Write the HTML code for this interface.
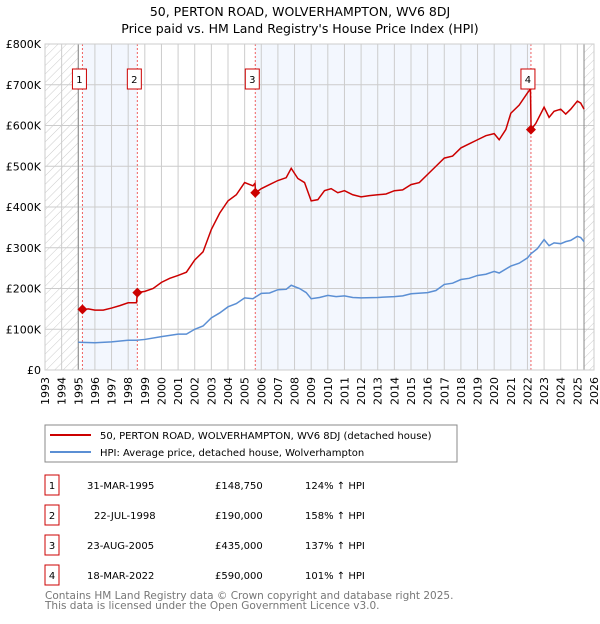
<!DOCTYPE html>
<html><head><meta charset="utf-8"><style>
body{margin:0;background:#fff;font-family:"DejaVu Sans","Liberation Sans",sans-serif;}
svg text{font-family:"DejaVu Sans","Liberation Sans",sans-serif;}
</style></head><body>
<svg id="c" width="600" height="620" xmlns="http://www.w3.org/2000/svg">
<defs><pattern id="hatch" width="6" height="6" patternUnits="userSpaceOnUse" patternTransform="rotate(45)"><line x1="0" y1="0" x2="0" y2="6" stroke="#ccc" stroke-width="1"/></pattern></defs>
<text x="300" y="16" text-anchor="middle" font-size="12.5">50, PERTON ROAD, WOLVERHAMPTON, WV6 8DJ</text>
<text x="300" y="33" text-anchor="middle" font-size="12.5">Price paid vs. HM Land Registry's House Price Index (HPI)</text>
<g id="plot"></g>
<rect x="45" y="425" width="412" height="37" fill="#fff" stroke="#888"/>
<line x1="50" y1="435" x2="91" y2="435" stroke="#cc0000" stroke-width="2"/>
<text x="100" y="439" font-size="10">50, PERTON ROAD, WOLVERHAMPTON, WV6 8DJ (detached house)</text>
<line x1="50" y1="452" x2="91" y2="452" stroke="#5b8fd4" stroke-width="2"/>
<text x="100" y="456" font-size="10">HPI: Average price, detached house, Wolverhampton</text>
<g id="tbl" font-size="10"></g>
<text x="45" y="599" font-size="10.5" fill="#777">Contains HM Land Registry data © Crown copyright and database right 2025.</text>
<text x="45" y="609" font-size="10.5" fill="#777">This data is licensed under the Open Government Licence v3.0.</text>
</svg>
<script>
const NS="http://www.w3.org/2000/svg";
const yearTicks=[1993,1994,1995,1996,1997,1998,1999,2000,2001,2002,2003,2004,2005,2006,2007,2008,2009,2010,2011,2012,2013,2014,2015,2016,2017,2018,2019,2020,2021,2022,2023,2024,2025,2026];
const yTicks=[0,100,200,300,400,500,600,700,800];
const yLabels=["£0","£100K","£200K","£300K","£400K","£500K","£600K","£700K","£800K"];
const saleDates=[1995.25,1998.55,2005.64,2022.21];
const salePrices=[148.75,190,435,590];
const saleDateText=["31-MAR-1995","22-JUL-1998","23-AUG-2005","18-MAR-2022"];
const salePriceText=["£148,750","£190,000","£435,000","£590,000"];
const saleHpiText=["124% ↑ HPI","158% ↑ HPI","137% ↑ HPI","101% ↑ HPI"];
const redT=[1995.25,1995.6,1996,1996.5,1997,1997.5,1998,1998.5,1998.55,1999,1999.5,2000,2000.5,2001,2001.5,2002,2002.5,2003,2003.5,2004,2004.5,2005,2005.5,2005.62,2005.66,2006,2006.5,2007,2007.5,2007.8,2008.2,2008.6,2009,2009.4,2009.8,2010.2,2010.6,2011,2011.5,2012,2012.5,2013,2013.5,2014,2014.5,2015,2015.5,2016,2016.5,2017,2017.5,2018,2018.5,2019,2019.5,2020,2020.3,2020.7,2021,2021.5,2022,2022.18,2022.22,2022.5,2023,2023.3,2023.6,2024,2024.3,2024.6,2025,2025.2,2025.4];
const redV=[148,150,147,147,152,158,165,165,190,193,200,215,225,232,240,270,290,345,385,415,430,460,452,458,435,445,455,465,472,495,470,460,415,418,440,445,435,440,430,425,428,430,432,440,442,455,460,480,500,520,525,545,555,565,575,580,565,590,630,650,680,690,590,605,645,620,635,640,628,640,660,655,640];
const hpiT=[1995,1996,1997,1998,1998.5,1999,2000,2001,2001.5,2002,2002.5,2003,2003.5,2004,2004.5,2005,2005.5,2006,2006.5,2007,2007.5,2007.8,2008.3,2008.7,2009,2009.5,2010,2010.5,2011,2011.5,2012,2013,2014,2014.5,2015,2016,2016.5,2017,2017.5,2018,2018.5,2019,2019.5,2020,2020.3,2021,2021.5,2022,2022.2,2022.6,2023,2023.3,2023.6,2024,2024.3,2024.6,2025,2025.2,2025.4];
const hpiV=[68,67,69,73,73,75,82,88,88,100,108,128,140,155,163,177,175,188,189,197,198,208,200,190,175,178,183,180,182,178,177,178,180,182,187,190,195,210,213,222,225,232,235,242,238,255,262,275,285,298,320,305,312,310,315,318,328,325,315];
const X=y=>45+(y-1993)*(549/33), Y=v=>370-v*(326/800);
function mk(tag,attrs,parent){const e=document.createElementNS(NS,tag);for(const k in attrs)e.setAttribute(k,attrs[k]);(parent||document.getElementById('plot')).appendChild(e);return e;}
const bands=[[saleDates[0],saleDates[1]],[saleDates[2],saleDates[3]]];
bands.forEach((b,i)=>{const r=mk('rect',{x:X(b[0]),y:Y(800),width:X(b[1])-X(b[0]),height:Y(0)-Y(800),fill:'#eef3fd',opacity:0.7});

});
const h1=mk('rect',{x:X(1993),y:Y(800),width:X(1995)-X(1993),height:326,fill:'url(#hatch)'});


const h2=mk('rect',{x:X(2025.4),y:Y(800),width:X(2026)-X(2025.4),height:326,fill:'url(#hatch)'});


yearTicks.forEach(y=>{const l=mk('line',{x1:X(y),x2:X(y),y1:Y(800),y2:Y(0),stroke:'#ccc','stroke-width':1});


const t=mk('text',{x:0,y:0,'font-size':11,'text-anchor':'end',transform:`translate(${X(y)+4},377) rotate(-90)`});t.textContent=y;

});
yTicks.forEach((v,i)=>{const l=mk('line',{x1:X(1993),x2:X(2026),y1:Y(v),y2:Y(v),stroke:'#ccc','stroke-width':1});


const t=mk('text',{x:41,y:Y(v)+4,'font-size':11,'text-anchor':'end'});t.textContent=yLabels[i];

});
[1995,2025.4].forEach(y=>{const l=mk('line',{x1:X(y),x2:X(y),y1:Y(800),y2:Y(0),stroke:'#888','stroke-width':1});

});
saleDates.forEach((d,i)=>{const l=mk('line',{x1:X(d),x2:X(d),y1:Y(800),y2:Y(0),stroke:'#f06060','stroke-width':1,'stroke-dasharray':'2,2'});

});
const hp=mk('polyline',{points:hpiT.map((t,i)=>X(t)+','+Y(hpiV[i])).join(' '),fill:'none',stroke:'#5b8fd4','stroke-width':1.5});


const rp=mk('polyline',{points:redT.map((t,i)=>X(t)+','+Y(redV[i])).join(' '),fill:'none',stroke:'#cc0000','stroke-width':1.5});


saleDates.forEach((d,i)=>{const cx=X(d),cy=Y(salePrices[i]);
const m=mk('path',{d:`M${cx-5},${cy} L${cx},${cy-5} L${cx+5},${cy} L${cx},${cy+5}Z`,fill:'#cc0000'});


const b=mk('rect',{x:cx-10,y:69,width:14,height:20,fill:'#fff',stroke:'#cc0000'});


const t=mk('text',{x:cx-3,y:83,'font-size':10,'text-anchor':'middle'});t.textContent=i+1;

});
const fr=mk('rect',{x:X(1993),y:Y(800),width:549,height:326,fill:'none',stroke:'#ccc'});


const T=document.getElementById('tbl');
saleDates.forEach((d,i)=>{const y=475+i*30;
const b=mk('rect',{x:45,y:y,width:14,height:20,fill:'#fff',stroke:'#cc0000'},T);


const cells=[[52,'middle',String(i+1)],[i==1?94:87,'start',saleDateText[i]],[215,'start',salePriceText[i]],[305,'start',saleHpiText[i]]];
const nm=['table-number','table-date','table-price','table-hpi'];
cells.forEach((c,j)=>{const t=mk('text',{x:c[0],y:y+14,'text-anchor':c[1]},T);t.textContent=c[2];

});});
</script>
</body></html>
